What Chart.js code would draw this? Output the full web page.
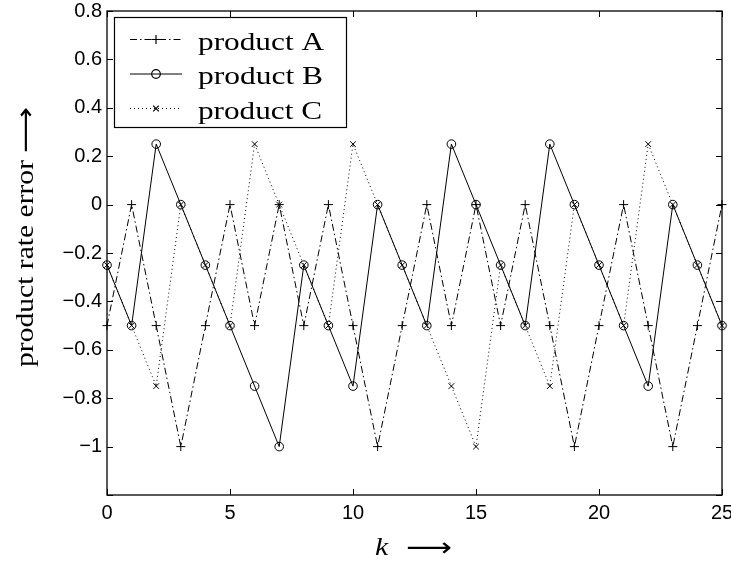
<!DOCTYPE html>
<html><head><meta charset="utf-8">
<script src="https://cdn.jsdelivr.net/npm/chart.js@4"></script>
<style>html,body{margin:0;padding:0;background:#fff}#wrap{width:731px;height:563px;position:relative}</style>
</head><body><div id="wrap"><canvas id="c"></canvas></div>
<script>
// ---- data ----
const kValues  = [0,1,2,3,4,5,6,7,8,9,10,11,12,13,14,15,16,17,18,19,20,21,22,23,24,25];
const productA = [-0.5,0,-0.5,-1,-0.5,0,-0.5,0,-0.5,0,-0.5,-1,-0.5,0,-0.5,0,-0.5,0,-0.5,-1,-0.5,0,-0.5,-1,-0.5,0];
const productB = [-0.25,-0.5,0.25,0,-0.25,-0.5,-0.75,-1,-0.25,-0.5,-0.75,0,-0.25,-0.5,0.25,0,-0.25,-0.5,0.25,0,-0.25,-0.5,-0.75,0,-0.25,-0.5];
const productC = [-0.25,-0.5,-0.75,0,-0.25,-0.5,0.25,0,-0.25,-0.5,0.25,0,-0.25,-0.5,-0.75,-1,-0.25,-0.5,-0.75,0,-0.25,-0.5,0.25,0,-0.25,-0.5];
const seriesNames = ['product A','product B','product C'];
const xTicks = [0,5,10,15,20,25];
const yTicks = [-1.2,-1,-0.8,-0.6,-0.4,-0.2,0,0.2,0.4,0.6,0.8];
const xTitle = 'k';
const yTitle = 'product rate error';
const arrow = '\u27F6';

const styles = [
  {dash:[7,3,1.5,3], point:'cross', r:4.5},
  {dash:[], point:'circle', r:4.3},
  {dash:[1,3], point:'crossRot', r:4}
];
const series = [productA, productB, productC];

const datasets = series.map((vals,i)=>({
  label: seriesNames[i],
  data: kValues.map((k,j)=>({x:k, y:vals[j]})),
  borderColor:'#000', borderWidth:1, borderDash:styles[i].dash,
  pointStyle:styles[i].point, pointRadius:styles[i].r, pointHoverRadius:styles[i].r,
  pointBorderColor:'#000', pointBackgroundColor:'rgba(0,0,0,0)', pointBorderWidth:1,
  fill:false, tension:0, clip:false
}));

function fmt(v){
  const r = Math.round(v*10)/10;
  return String(r).replace('-', '\u2212');
}

function stretchText(ctx, text, x, y, sx){
  ctx.save(); ctx.translate(x,y); ctx.scale(sx,1); ctx.fillText(text,0,0); ctx.restore();
}

function drawMarker(ctx, style, x, y, r){
  ctx.beginPath();
  if(style==='circle'){ ctx.arc(x,y,r,0,Math.PI*2); }
  else if(style==='cross'){ ctx.moveTo(x-r,y); ctx.lineTo(x+r,y); ctx.moveTo(x,y-r); ctx.lineTo(x,y+r); }
  else { const d=r*Math.SQRT1_2; ctx.moveTo(x-d,y-d); ctx.lineTo(x+d,y+d); ctx.moveTo(x-d,y+d); ctx.lineTo(x+d,y-d); }
  ctx.stroke();
}

const decor = {
  id:'decor',
  beforeDraw(chart){
    const ctx=chart.ctx; ctx.save(); ctx.fillStyle='#fff'; ctx.fillRect(0,0,chart.width,chart.height); ctx.restore();
  },
  afterDraw(chart){
    const {ctx, chartArea:a, scales:{x,y}} = chart;
    ctx.save();
    ctx.strokeStyle='#000'; ctx.fillStyle='#000';
    // frame
    ctx.lineWidth=1.3;
    ctx.strokeRect(a.left, a.top, a.right-a.left, a.bottom-a.top);
    // inward ticks
    ctx.lineWidth=1;
    const tl=6;
    ctx.beginPath();
    x.ticks.forEach(t=>{ const p=Math.round(x.getPixelForValue(t.value))+0.5;
      ctx.moveTo(p,a.bottom); ctx.lineTo(p,a.bottom-tl); ctx.moveTo(p,a.top); ctx.lineTo(p,a.top+tl); });
    y.ticks.forEach(t=>{ const p=Math.round(y.getPixelForValue(t.value))+0.5;
      ctx.moveTo(a.left,p); ctx.lineTo(a.left+tl,p); ctx.moveTo(a.right,p); ctx.lineTo(a.right-tl,p); });
    ctx.stroke();

    // legend
    const lx=114.5, ly=17.5, lw=232, lh=110;
    ctx.fillStyle='#fff'; ctx.fillRect(lx,ly,lw,lh);
    ctx.lineWidth=1.2; ctx.strokeRect(lx,ly,lw,lh);
    const rowY=[39.5,74,108.5];
    ctx.font="26px 'Liberation Serif','Times New Roman',serif";
    ctx.textBaseline='alphabetic'; ctx.textAlign='left';
    seriesNames.forEach((n,i)=>{
      const yy=rowY[i];
      ctx.save(); ctx.setLineDash(styles[i].dash); ctx.lineWidth=1;
      ctx.beginPath(); ctx.moveTo(130,yy); ctx.lineTo(182,yy); ctx.stroke(); ctx.restore();
      drawMarker(ctx, styles[i].point, 156, yy, styles[i].r);
      ctx.fillStyle='#000';
      const w=ctx.measureText(n).width;
      stretchText(ctx, n, 198, yy+10, (n.endsWith('A')?126:n.endsWith('B')?125:124)/w);
    });

    // x title
    ctx.fillStyle='#000';
    ctx.font="italic 26px 'Liberation Serif','Times New Roman',serif";
    stretchText(ctx, xTitle, 375, 555, 1.15);
    ctx.font="26px 'DejaVu Sans',sans-serif";
    const aw=ctx.measureText(arrow).width;
    stretchText(ctx, arrow, 406, 556, 46/aw);

    // y title (rotated)
    ctx.save();
    ctx.translate(33,367); ctx.rotate(-Math.PI/2);
    ctx.font="26px 'Liberation Serif','Times New Roman',serif";
    const tw=ctx.measureText(yTitle).width;
    stretchText(ctx, yTitle, 0, 0, 207/tw);
    ctx.font="26px 'DejaVu Sans',sans-serif";
    stretchText(ctx, arrow, 214, 1, 46/aw);
    ctx.restore();
    ctx.restore();
  }
};

new Chart(document.getElementById('c'), {
  type:'line',
  data:{datasets},
  options:{
    responsive:true, maintainAspectRatio:false, animation:false,
    layout:{padding:{top:11,right:9,left:0,bottom:0}, autoPadding:false},
    plugins:{legend:{display:false}, tooltip:{enabled:false}},
    events:[],
    scales:{
      x:{type:'linear', min:0, max:25,
        afterBuildTicks:s=>{ s.ticks = xTicks.map(v=>({value:v})); },
        afterFit:s=>{ s.height=68; s.paddingLeft=0; s.paddingRight=0; s.paddingTop=0; s.paddingBottom=0; },
        grid:{display:false, drawTicks:false}, border:{display:false},
        ticks:{padding:6, color:'#000', maxRotation:0, autoSkip:false,
          font:{family:"'Liberation Sans',Arial,sans-serif", size:20},
          callback:v=>fmt(v)}
      },
      y:{type:'linear', min:-1.2, max:0.8,
        afterBuildTicks:s=>{ s.ticks = yTicks.map(v=>({value:v})); },
        afterFit:s=>{ s.width=107; s.paddingLeft=0; s.paddingRight=0; s.paddingTop=0; s.paddingBottom=0; },
        grid:{display:false, drawTicks:false}, border:{display:false},
        ticks:{padding:5, color:'#000', autoSkip:false,
          font:{family:"'Liberation Sans',Arial,sans-serif", size:20},
          callback:v=> (Math.abs(v+1.2)<1e-9 ? '' : fmt(v))}
      }
    }
  },
  plugins:[decor]
});
</script></body></html>
